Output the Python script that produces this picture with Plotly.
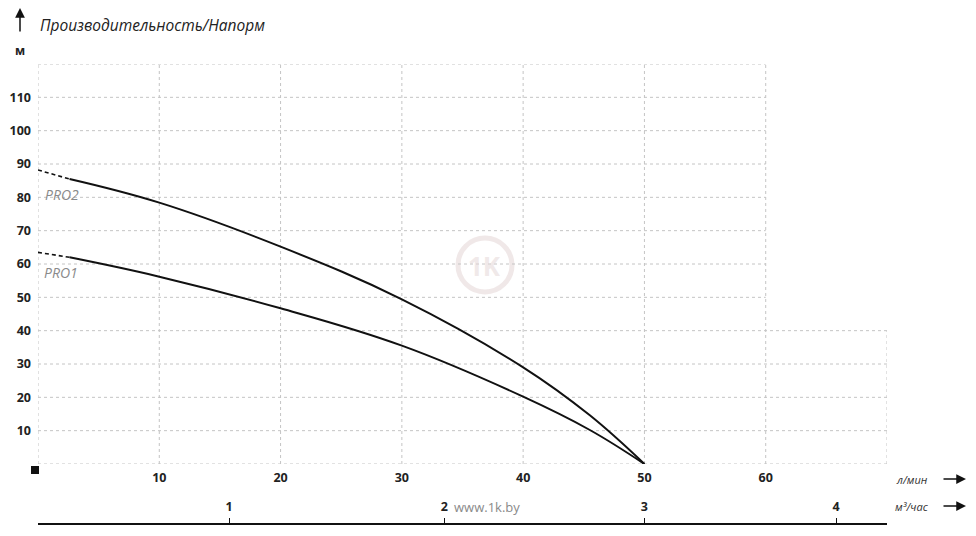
import plotly.graph_objects as go

# ---- data ----
FLOW_LMIN_TICKS = [10, 20, 30, 40, 50, 60]
HEAD_TICKS = [10, 20, 30, 40, 50, 60, 70, 80, 90, 100, 110]
M3_TICK_LABELS = ["1", "2", "3", "4"]
M3_TICK_POS = [15.75, 33.5, 50.0, 65.8]   # positions on the l/min scale

PRO2_X = [0, 2.6, 10, 20, 30, 40, 45.5, 50]
PRO2_Y = [88.2, 85.5, 78.4, 65.2, 49.4, 29.0, 14.6, 0]
PRO1_X = [0, 2.6, 10, 20, 30, 40, 45.5, 50]
PRO1_Y = [63.5, 62.0, 56.2, 46.7, 35.5, 20.2, 10.2, 0]
DASH_END = 2  # index where dashed extrapolation ends

TITLE = "Производительность/Напорм"

W, H = 976, 536
L, R, T = 38, 89, 64
plot_bottom_px = 464
ydom0 = (H - plot_bottom_px) / (H - T)
PW, PH = W - L - R, H - T


def px(xp):
    return (xp - L) / PW


def py(yp):
    return (H - yp) / PH


fig = go.Figure()

for xs, ys in [(PRO2_X, PRO2_Y), (PRO1_X, PRO1_Y)]:
    fig.add_trace(go.Scatter(x=xs[:DASH_END], y=ys[:DASH_END], mode="lines",
                             line=dict(color="#111", width=1.6, dash="4px,3px"),
                             showlegend=False, hoverinfo="skip"))
    fig.add_trace(go.Scatter(x=xs[DASH_END - 1:], y=ys[DASH_END - 1:], mode="lines",
                             line=dict(color="#111", width=2, shape="spline", smoothing=1.1),
                             showlegend=False))

# dummy trace for second axis
fig.add_trace(go.Scatter(x=[0, 70], y=[None, None], xaxis="x2", yaxis="y",
                         mode="lines", showlegend=False, hoverinfo="skip"))

# ---- irregular dotted grid ----
grid = dict(color="#c4c4c4", width=1, dash="dot")
shapes = []
for gx in [0, 10, 20, 30, 40, 50, 60]:
    shapes.append(dict(type="line", xref="x", yref="y", x0=gx, x1=gx, y0=0, y1=120,
                       line=grid, layer="below"))
shapes.append(dict(type="line", xref="x", yref="y", x0=70, x1=70, y0=0, y1=40,
                   line=grid, layer="below"))
for gy in [0, 10, 20, 30, 40]:
    shapes.append(dict(type="line", xref="x", yref="y", x0=0, x1=70, y0=gy, y1=gy,
                       line=grid, layer="below"))
for gy in [50, 60, 70, 80, 90, 100, 110, 120]:
    shapes.append(dict(type="line", xref="x", yref="y", x0=0, x1=60, y0=gy, y1=gy,
                       line=grid, layer="below"))

# faint watermark logo ring
shapes.append(dict(type="circle", xref="paper", yref="paper",
                   x0=px(458), x1=px(512), y0=py(292), y1=py(238),
                   line=dict(color="rgba(228,214,214,0.55)", width=5), layer="below"))
# black square marker near origin
shapes.append(dict(type="rect", xref="paper", yref="paper",
                   x0=px(31), x1=px(39), y0=py(474), y1=py(466),
                   fillcolor="#111", line=dict(width=0)))
fig.update_layout(shapes=shapes)

bold = dict(family="Open Sans", size=12.5, color="#222", weight="bold")

fig.update_layout(
    width=W, height=H,
    margin=dict(l=L, r=R, t=T, b=0),
    paper_bgcolor="white", plot_bgcolor="white",
    xaxis=dict(range=[0, 70], domain=[0, 1], anchor="y", showgrid=False, zeroline=False,
               showline=False, tickvals=FLOW_LMIN_TICKS,
               ticktext=[str(v) for v in FLOW_LMIN_TICKS], ticks="",
               tickfont=bold, ticklabelstandoff=4, fixedrange=True),
    xaxis2=dict(range=[0, 70], domain=[0, 1], overlaying="x", anchor="free",
                position=(H - 524) / PH, side="top", showgrid=False, zeroline=False,
                showline=True, linecolor="#111", linewidth=2,
                tickvals=M3_TICK_POS, ticktext=M3_TICK_LABELS,
                ticks="outside", ticklen=5, tickcolor="#111", tickwidth=1,
                tickfont=bold, ticklabelstandoff=2),
    yaxis=dict(range=[0, 120], domain=[ydom0, 1], showgrid=False, zeroline=False,
               showline=False, tickvals=HEAD_TICKS,
               ticktext=[str(v) for v in HEAD_TICKS], ticks="",
               tickfont=bold, ticklabelstandoff=6),
)

ann = []
ann.append(dict(text=TITLE, xref="paper", yref="paper", x=px(38), y=py(25),
                xanchor="left", yanchor="middle", showarrow=False,
                font=dict(family="Open Sans", size=15.5, color="#222", style="italic")))
ann.append(dict(text="м", xref="paper", yref="paper", x=px(20), y=py(51),
                xanchor="center", yanchor="middle", showarrow=False,
                font=dict(family="Open Sans", size=12, color="#222", weight="bold")))
# top arrow
ann.append(dict(text="", xref="paper", yref="paper", axref="pixel", ayref="pixel",
                x=px(20), y=py(8), ax=0, ay=25,
                showarrow=True, arrowhead=2, arrowsize=1.3, arrowwidth=1.5, arrowcolor="#111"))
# series labels
ann.append(dict(text="PRO2", xref="x", yref="y", x=0.4, y=81, xanchor="left",
                yanchor="middle", showarrow=False,
                font=dict(family="Open Sans", size=14, color="#8a8a8a", style="italic")))
ann.append(dict(text="PRO1", xref="x", yref="y", x=0.3, y=57.4, xanchor="left",
                yanchor="middle", showarrow=False,
                font=dict(family="Open Sans", size=14, color="#8a8a8a", style="italic")))
# unit labels with arrows
for label, ypx in [("л/мин", 479), ("м³/час", 506)]:
    ann.append(dict(text=label, xref="paper", yref="paper", x=px(912), y=py(ypx),
                    xanchor="center", yanchor="middle", showarrow=False,
                    font=dict(family="Open Sans", size=11, color="#333", style="italic")))
    ann.append(dict(text="", xref="paper", yref="paper", axref="pixel", ayref="pixel",
                    x=px(966), y=py(ypx), ax=-24, ay=0,
                    showarrow=True, arrowhead=2, arrowsize=1.3, arrowwidth=1.5,
                    arrowcolor="#111"))
# watermark
ann.append(dict(text="www.1k.by", xref="paper", yref="paper", x=px(487), y=py(507),
                xanchor="center", yanchor="middle", showarrow=False,
                font=dict(family="Open Sans", size=13, color="#8a8a8a")))
ann.append(dict(text="1K", xref="paper", yref="paper", x=px(485), y=py(266),
                xanchor="center", yanchor="middle", showarrow=False,
                font=dict(family="Open Sans", size=26, color="rgba(228,214,214,0.55)",
                          weight="bold")))
fig.update_layout(annotations=ann)

fig.write_html("out.html")
